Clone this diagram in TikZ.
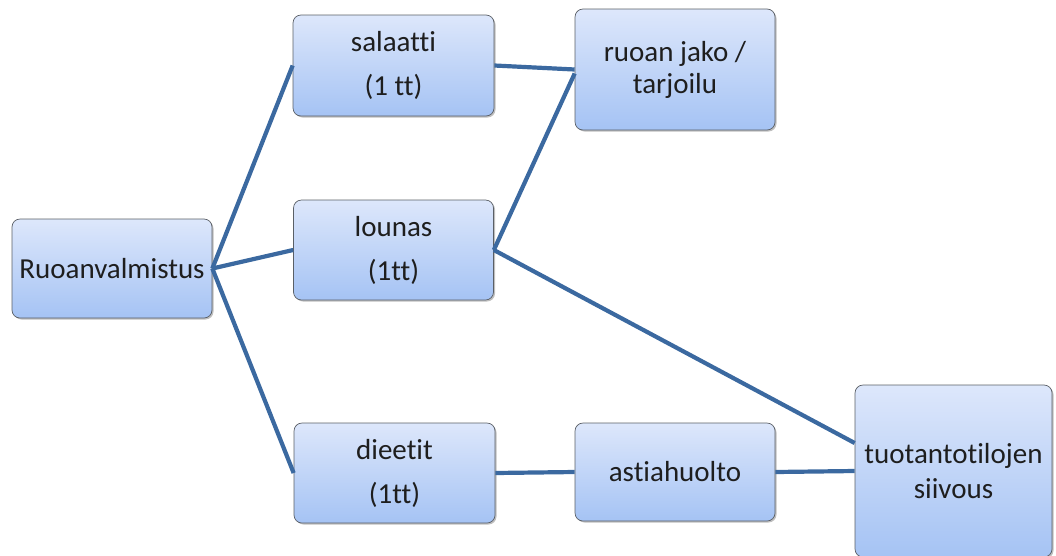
\documentclass[tikz,border=0pt]{standalone}
\usepackage{fontspec}
\setmainfont{Carlito}[Ligatures=NoCommon]
\usetikzlibrary{shadows}
\definecolor{boxtop}{HTML}{DDE7FB}
\definecolor{boxbot}{HTML}{A5C3F4}
\definecolor{boxline}{HTML}{5A5F66}
\definecolor{conn}{HTML}{3B69A0}
\definecolor{txt}{HTML}{1E1E1E}
\tikzset{
  box/.style={draw=boxline, line width=0.7pt, rounded corners=8pt,
    top color=boxtop, bottom color=boxbot, align=center, text=txt,
    inner sep=0pt,
    drop shadow={shadow xshift=1.5pt, shadow yshift=-1.5pt, opacity=0.25, fill=black},
    font=\fontsize{29}{44}\selectfont},
  link/.style={draw=conn, line width=4.2pt}
}
\begin{document}
\begin{tikzpicture}[x=1pt,y=1pt]
\useasboundingbox (0,0) rectangle (1056,-555);
\node[box, minimum width=200pt, minimum height=99pt] (ruo) at (112,-268.5) {Ruoanvalmistus};
\node[box, minimum width=201pt, minimum height=101pt] (sal) at (393.5,-65.5) {salaatti\\(1 tt)};
\node[box, minimum width=200pt, minimum height=100pt] (lou) at (393.5,-250) {lounas\\(1tt)};
\node[box, minimum width=201pt, minimum height=100pt] (die) at (394.5,-473) {dieetit\\(1tt)};
\node[box, minimum width=200pt, minimum height=121pt, font=\fontsize{29}{32}\selectfont] (jako) at (675,-69.5) {ruoan jako /\\tarjoilu};
\node[box, minimum width=200pt, minimum height=98pt] (asti) at (675,-472) {astiahuolto};
\node[box, minimum width=197pt, minimum height=172pt, font=\fontsize{29}{35}\selectfont] (tuo) at (953.5,-471) {tuotantotilojen\\siivous};
\draw[link] (ruo.east) -- (sal.west);
\draw[link] (ruo.east) -- (lou.west);
\draw[link] (ruo.east) -- (die.west);
\draw[link] (sal.east) -- (jako.west);
\draw[link] (lou.east) -- ([yshift=-4pt]jako.west);
\draw[link] (lou.east) -- ([yshift=28pt]tuo.west);
\draw[link] (die.east) -- (asti.west);
\draw[link] (asti.east) -- (tuo.west);
\end{tikzpicture}
\end{document}
